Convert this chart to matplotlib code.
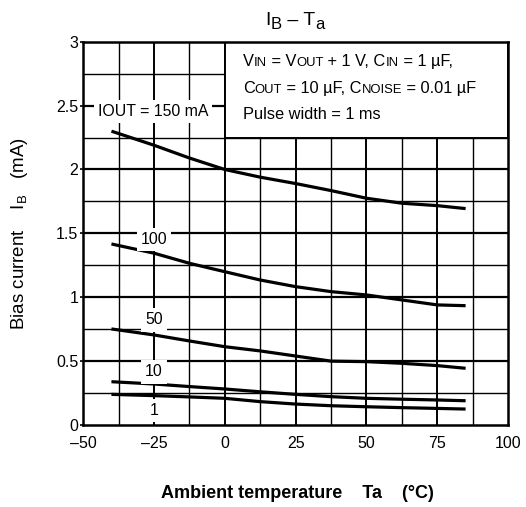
import matplotlib
matplotlib.use("Agg")
import matplotlib.pyplot as plt
from matplotlib.patches import Rectangle
from matplotlib.offsetbox import TextArea, HPacker, AnnotationBbox

plt.rcParams['font.family'] = ['Liberation Sans', 'DejaVu Sans']
plt.rcParams['mathtext.fontset'] = 'custom'
plt.rcParams['mathtext.rm'] = 'Liberation Sans'
plt.rcParams['mathtext.it'] = 'Liberation Sans'

# Data
temps = [-40, -25, -12.5, 0, 12.5, 25, 37.5, 50, 62.5, 75, 85]
ib_150 = [2.30, 2.19, 2.09, 2.00, 1.94, 1.89, 1.835, 1.775, 1.736, 1.717, 1.694]
ib_100 = [1.417, 1.345, 1.266, 1.20, 1.135, 1.083, 1.044, 1.018, 0.979, 0.94, 0.934]
ib_50 = [0.752, 0.705, 0.658, 0.613, 0.58, 0.54, 0.50, 0.496, 0.483, 0.465, 0.444]
ib_10 = [0.339, 0.321, 0.301, 0.282, 0.26, 0.24, 0.222, 0.209, 0.202, 0.196, 0.19]
ib_1 = [0.24, 0.23, 0.22, 0.209, 0.183, 0.164, 0.151, 0.143, 0.136, 0.13, 0.125]
series = [ib_150, ib_100, ib_50, ib_10, ib_1]

labels = ["IOUT = 150 mA", "100", "50", "10", "1"]
label_pos = [(-25.3, 2.453), (-25, 1.454), (-25, 0.822), (-25, 0.415), (-25, 0.112)]

x_ticks = [-50, -25, 0, 25, 50, 75, 100]
x_ticklabels = ["\u201350", "\u201325", "0", "25", "50", "75", "100"]
y_ticks = [0, 0.5, 1, 1.5, 2, 2.5, 3]
y_ticklabels = ["0", "0.5", "1", "1.5", "2", "2.5", "3"]

# condition text: (text, is_small) pieces per line
cond_lines = [
    [("V", 0), ("IN", 1), (" = V", 0), ("OUT", 1), (" + 1 V, C", 0), ("IN", 1), (" = 1 \u00b5F,", 0)],
    [("C", 0), ("OUT", 1), (" = 10 \u00b5F, C", 0), ("NOISE", 1), (" = 0.01 \u00b5F", 0)],
    [("Pulse width = 1 ms", 0)],
]
cond_y = [2.843, 2.633, 2.43]

fig = plt.figure(figsize=(5.26, 5.07), dpi=100)
ax = fig.add_axes([0.158, 0.1617, 0.808, 0.756])
ax.set_xlim(-50, 100)
ax.set_ylim(0, 3)

# grid
for i in range(1, 12):
    gx = -50 + 12.5 * i
    ax.axvline(gx, color='black', lw=1.4 if i % 2 == 0 else 1.0, zorder=1)
for i in range(1, 12):
    gy = 0.25 * i
    ax.axhline(gy, color='black', lw=1.6 if i % 2 == 0 else 1.0, zorder=1)

# condition box
ax.add_patch(Rectangle((0, 2.25), 100, 0.75, facecolor='white', edgecolor='black',
                       lw=1.4, zorder=2))
for pieces, yy in zip(cond_lines, cond_y):
    areas = [TextArea(t, textprops=dict(fontsize=9.4 if sm else 11.8)) for t, sm in pieces]
    pack = HPacker(children=areas, align='baseline', pad=0, sep=0)
    ab = AnnotationBbox(pack, (6.3, yy), xycoords='data', box_alignment=(0, 0.5),
                        frameon=False, pad=0, zorder=4)
    ax.add_artist(ab)

for s in series:
    ax.plot(temps, s, color='black', lw=2.3, zorder=3, solid_capstyle='butt')

for lab, (lx, ly) in zip(labels, label_pos):
    ax.text(lx, ly, lab, fontsize=11.4, ha='center', va='center', zorder=4,
            bbox=dict(facecolor='white', edgecolor='none', pad=3))

ax.set_xticks(x_ticks)
ax.set_xticklabels(x_ticklabels, fontsize=11.5)
ax.set_yticks(y_ticks)
ax.set_yticklabels(y_ticklabels, fontsize=11.5)
ax.tick_params(axis='x', length=0, pad=8)
ax.tick_params(axis='y', length=2, width=1.2, pad=1.5)
for sp in ax.spines.values():
    sp.set_linewidth(1.8)
    sp.set_zorder(5)

# title with large subscripts
t1 = fig.text(265 / 526, 1 - 25 / 507, "I", fontsize=14, ha='left', va='baseline')
prev = t1
for txt, fs, dy in [("B", 12, -3), (" \u2013 T", 14, 3), ("a", 12, -3)]:
    prev = ax.annotate(txt, xy=(1, 0), xycoords=prev, xytext=(0, dy),
                       textcoords='offset pixels', fontsize=fs, ha='left', va='bottom',
                       annotation_clip=False)

ax.set_xlabel("Ambient temperature    Ta    (\u00b0C)", fontsize=13,
              fontweight='bold', va='center')
ax.xaxis.set_label_coords(0.5035, -0.1774)
ax.set_ylabel(r"Bias current    I$_{\mathrm{B}}$   (mA)", fontsize=13.5, va='center')
ax.yaxis.set_label_coords(-0.1506, 0.5)

fig.savefig("out.png", dpi=100)
